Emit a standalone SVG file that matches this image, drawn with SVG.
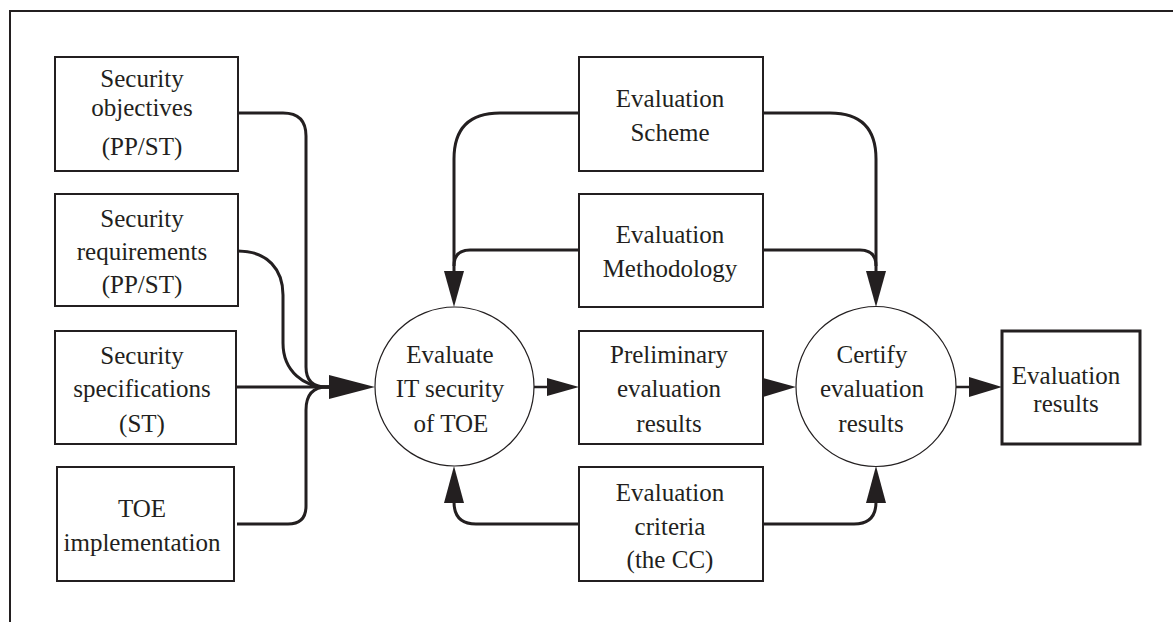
<svg xmlns="http://www.w3.org/2000/svg" width="1173" height="622" viewBox="0 0 1173 622">
  <style>
    .box { fill: #fff; stroke: #231f20; stroke-width: 2; }
    .box-strong { fill: #fff; stroke: #231f20; stroke-width: 3; }
    .proc { fill: #fff; stroke: #231f20; stroke-width: 1.2; }
    .wire { fill: none; stroke: #231f20; stroke-width: 3; }
    .wire-thin { fill: none; stroke: #231f20; stroke-width: 2.5; }
    .head { fill: #231f20; stroke: none; }
    text { font-family: "Liberation Serif", "Times New Roman", serif; font-size: 25px; fill: #231f20; text-anchor: middle; }
  </style>

  <!-- outer frame (top and left edges) -->
  <path d="M10,622 V11 H1173" fill="none" stroke="#231f20" stroke-width="2"/>

  <!-- connectors -->
  <g id="connectors">
    <!-- inputs converging on the evaluation process -->
    <path class="wire" d="M238,113 H283 Q306,113 306,136 V367 Q306,387 326,387 H331"/>
    <path class="wire" d="M238,251 C268,251 283,270 283,295 V343 C283,372 305,387 326,387 H331"/>
    <path class="wire" d="M236,387 H331"/>
    <path class="wire" d="M237,524 H288 Q306,524 306,506 V410 Q306,387 327,387 H331"/>
    <polygon class="head" points="329,375 375,387 329,399"/>

    <!-- evaluation scheme -->
    <path class="wire" d="M579,113 H500 Q454,113 454,159 V272"/>
    <path class="wire" d="M763,113 H830 Q876,113 876,159 V272"/>
    <!-- evaluation methodology -->
    <path class="wire" d="M579,250 H470 Q454,250 454,266"/>
    <path class="wire" d="M763,250 H860 Q876,250 876,266"/>
    <polygon class="head" points="444,271 464,271 454,307"/>
    <polygon class="head" points="866,271 886,271 876,307"/>

    <!-- evaluation criteria -->
    <path class="wire" d="M579,524 H476 Q454,524 454,502"/>
    <path class="wire" d="M763,524 H854 Q876,524 876,502"/>
    <polygon class="head" points="444,503 464,503 454,466"/>
    <polygon class="head" points="866,503 886,503 876,466"/>

    <!-- main flow -->
    <path class="wire-thin" d="M534,387 H549"/>
    <polygon class="head" points="547,378 579,387 547,396"/>
    <polygon class="head" points="763,378 796,387 763,397"/>
    <path class="wire-thin" d="M956,387 H971"/>
    <polygon class="head" points="969,377 1002,387 969,397"/>
  </g>

  <g id="security-objectives">
    <rect class="box" x="55" y="57" width="183" height="114"/>
    <text x="142" y="87">Security</text>
    <text x="142" y="116">objectives</text>
    <text x="142" y="155">(PP/ST)</text>
  </g>

  <g id="security-requirements">
    <rect class="box" x="55" y="194" width="183" height="112"/>
    <text x="142" y="227">Security</text>
    <text x="142" y="260">requirements</text>
    <text x="142" y="293">(PP/ST)</text>
  </g>

  <g id="security-specifications">
    <rect class="box" x="55" y="331" width="181" height="113"/>
    <text x="142" y="364">Security</text>
    <text x="142" y="397">specifications</text>
    <text x="142" y="432">(ST)</text>
  </g>

  <g id="toe-implementation">
    <rect class="box" x="57" y="467" width="177" height="114"/>
    <text x="142" y="517">TOE</text>
    <text x="142" y="551">implementation</text>
  </g>

  <g id="evaluate-it-security">
    <circle class="proc" cx="454.5" cy="386.5" r="79.5"/>
    <text x="450" y="363">Evaluate</text>
    <text x="450" y="397">IT security</text>
    <text x="451" y="432">of TOE</text>
  </g>

  <g id="evaluation-scheme">
    <rect class="box" x="579" y="57" width="184" height="114"/>
    <text x="670" y="107">Evaluation</text>
    <text x="670" y="141">Scheme</text>
  </g>

  <g id="evaluation-methodology">
    <rect class="box" x="579" y="194" width="184" height="113"/>
    <text x="670" y="243">Evaluation</text>
    <text x="670" y="277">Methodology</text>
  </g>

  <g id="preliminary-results">
    <rect class="box" x="579" y="331" width="184" height="113"/>
    <text x="669" y="363">Preliminary</text>
    <text x="669" y="397">evaluation</text>
    <text x="669" y="432">results</text>
  </g>

  <g id="evaluation-criteria">
    <rect class="box" x="579" y="467" width="184" height="114"/>
    <text x="670" y="501">Evaluation</text>
    <text x="670" y="535">criteria</text>
    <text x="670" y="568">(the CC)</text>
  </g>

  <g id="certify-results">
    <circle class="proc" cx="876" cy="386.5" r="80"/>
    <text x="872" y="363">Certify</text>
    <text x="872" y="397">evaluation</text>
    <text x="871" y="432">results</text>
  </g>

  <g id="evaluation-results">
    <rect class="box-strong" x="1002" y="331" width="138" height="113"/>
    <text x="1066" y="384">Evaluation</text>
    <text x="1066" y="412">results</text>
  </g>
</svg>
